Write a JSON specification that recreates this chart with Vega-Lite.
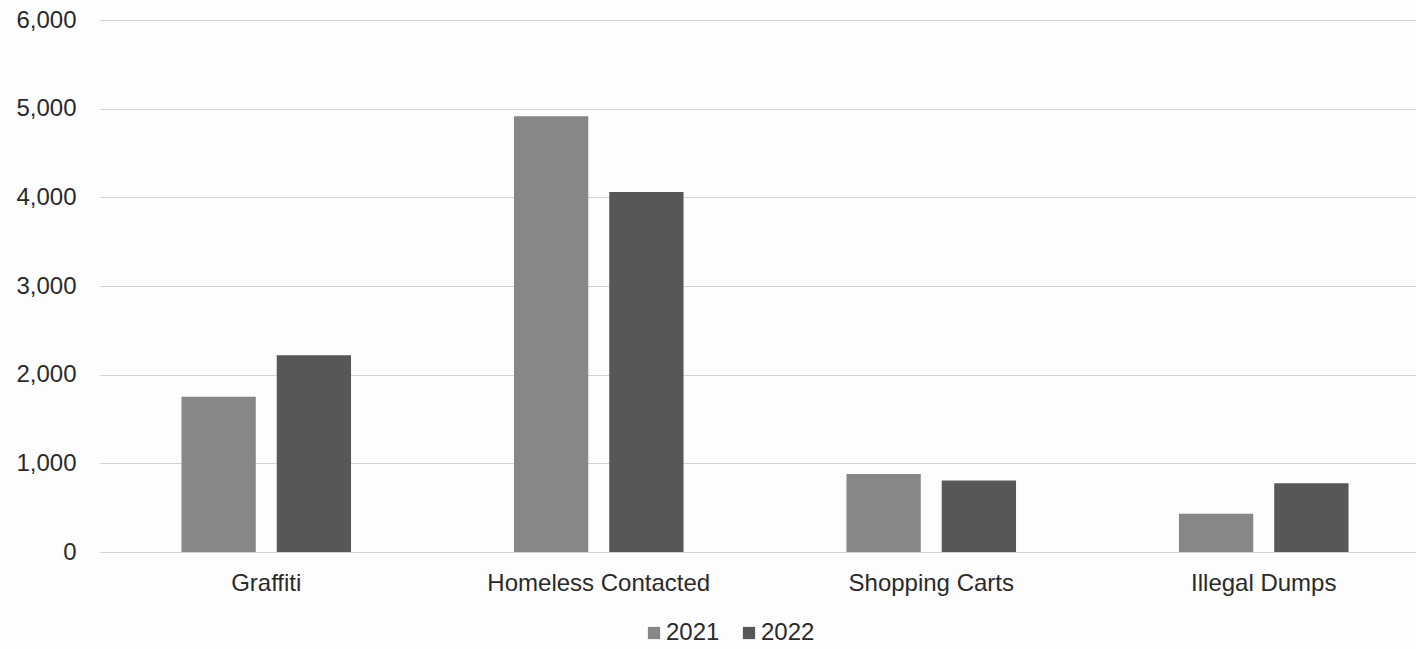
{
  "$schema": "https://vega.github.io/schema/vega-lite/v6.json",
  "autosize": {"type": "none"},
  "padding": {"left": 100, "top": 20, "right": 0, "bottom": 97},
  "width": 1316,
  "height": 532,
  "background": "#fdfdfd",
  "config": {
    "view": {"stroke": null},
    "font": "Liberation Sans",
    "axis": {"labelFont": "Liberation Sans", "labelColor": "#2a2a2a"}
  },
  "data": {
    "values": [
      {"category": "Graffiti", "year": "2021", "value": 1750},
      {"category": "Graffiti", "year": "2022", "value": 2220},
      {"category": "Homeless Contacted", "year": "2021", "value": 4915},
      {"category": "Homeless Contacted", "year": "2022", "value": 4060},
      {"category": "Shopping Carts", "year": "2021", "value": 880},
      {"category": "Shopping Carts", "year": "2022", "value": 805},
      {"category": "Illegal Dumps", "year": "2021", "value": 430},
      {"category": "Illegal Dumps", "year": "2022", "value": 775}
    ]
  },
  "mark": {"type": "bar"},
  "encoding": {
    "x": {
      "field": "category",
      "type": "nominal",
      "sort": ["Graffiti", "Homeless Contacted", "Shopping Carts", "Illegal Dumps"],
      "scale": {"range": [0, 1330], "paddingInner": 0.49, "paddingOuter": 0.245},
      "axis": {
        "title": null,
        "labelAngle": 0,
        "labelFontSize": 24,
        "labelPadding": 19,
        "labelLimit": 0,
        "domain": false,
        "ticks": false
      }
    },
    "xOffset": {
      "field": "year",
      "type": "nominal",
      "scale": {"paddingInner": 0.22, "paddingOuter": 0}
    },
    "y": {
      "field": "value",
      "type": "quantitative",
      "scale": {"domain": [0, 6000], "nice": false},
      "axis": {
        "title": null,
        "values": [0, 1000, 2000, 3000, 4000, 5000, 6000],
        "format": ",d",
        "labelFontSize": 24,
        "labelPadding": 24,
        "domain": false,
        "ticks": false,
        "gridColor": "#d2d2d2",
        "gridWidth": 1
      }
    },
    "color": {
      "field": "year",
      "type": "nominal",
      "scale": {"domain": ["2021", "2022"], "range": ["#878787", "#575757"]},
      "legend": {
        "title": null,
        "orient": "none",
        "direction": "horizontal",
        "legendX": 542,
        "legendY": 601,
        "padding": 0,
        "symbolType": "square",
        "symbolSize": 150,
        "symbolStrokeWidth": 0,
        "labelFontSize": 24,
        "labelFont": "Liberation Sans",
        "labelColor": "#2a2a2a",
        "labelOffset": 0,
        "columnPadding": 17
      }
    }
  }
}
